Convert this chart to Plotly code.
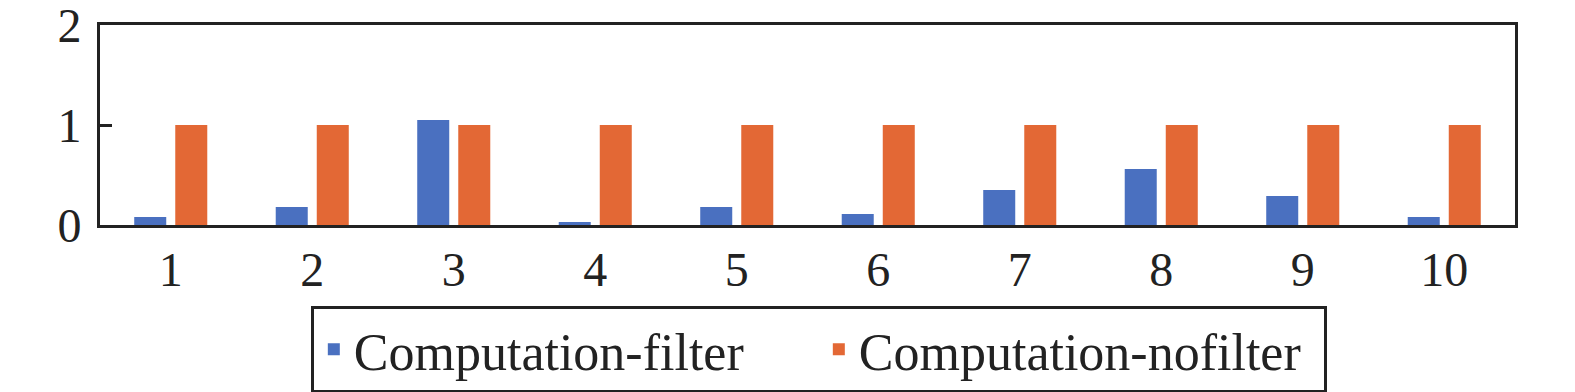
import plotly.graph_objects as go

categories = [1, 2, 3, 4, 5, 6, 7, 8, 9, 10]
filter_vals = [0.08, 0.18, 1.05, 0.03, 0.18, 0.11, 0.35, 0.56, 0.29, 0.08]
nofilter_vals = [1, 1, 1, 1, 1, 1, 1, 1, 1, 1]
y_ticks = [0, 1, 2]

FONT = "Liberation Serif, Times New Roman, serif"
INK = "#222222"

fig = go.Figure()
fig.add_trace(go.Bar(x=categories, y=filter_vals, name="Computation-filter",
                     marker=dict(color="#4A70C0", line=dict(width=0))))
fig.add_trace(go.Bar(x=categories, y=nofilter_vals, name="Computation-nofilter",
                     marker=dict(color="#E36835", line=dict(width=0))))

fig.update_layout(
    width=1575, height=392,
    margin=dict(l=100, r=60, t=25, b=167, autoexpand=False),
    paper_bgcolor="white", plot_bgcolor="white",
    barmode="group", bargap=0.42, bargroupgap=0.22,
    font=dict(family=FONT, size=48, color=INK),
    legend=dict(orientation="h", x=0.508, xanchor="center", y=-0.405, yanchor="top",
                bordercolor=INK, borderwidth=3, font=dict(size=52, family=FONT, color=INK),
                bgcolor="white", entrywidth=460, entrywidthmode="pixels"),
    showlegend=True,
)
fig.update_xaxes(range=[0.5, 10.5], tickmode="array", tickvals=categories,
                 ticktext=[str(c) for c in categories], ticks="",
                 showline=True, linewidth=3, linecolor=INK, mirror=True,
                 showgrid=False, zeroline=False, tickfont=dict(size=48, family=FONT, color=INK))
fig.update_yaxes(range=[0, 2], tickmode="array", tickvals=y_ticks, ticks="inside",
                 ticklen=12, tickwidth=3, tickcolor=INK, ticklabeloverflow="allow",
                 ticklabelstandoff=6,
                 showline=True, linewidth=3, linecolor=INK, mirror=True,
                 showgrid=False, zeroline=False, tickfont=dict(size=48, family=FONT, color=INK))

fig.write_html("out.html")
